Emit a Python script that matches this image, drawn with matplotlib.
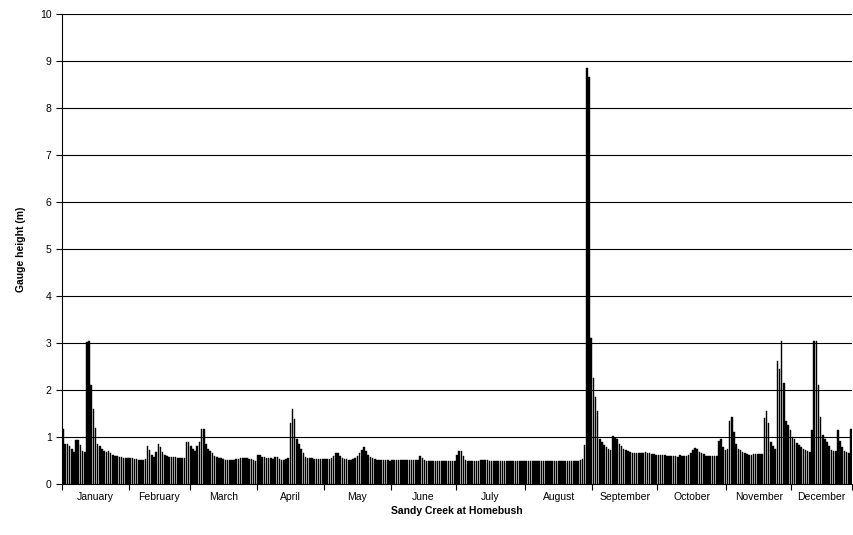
import numpy as np
import matplotlib
matplotlib.use('Agg')
import matplotlib.pyplot as plt

plt.rcParams['font.family'] = ['Liberation Sans', 'DejaVu Sans']

months = ['January', 'February', 'March', 'April', 'May', 'June', 'July',
          'August', 'September', 'October', 'November', 'December']

# daily gauge height (m); one list per labelled month block
jan = [1.18, 0.85, 0.85, 0.8, 0.75, 0.68, 0.93, 0.93, 0.82, 0.7, 0.68, 3.03, 3.05, 2.1, 1.6,
       1.2, 0.85, 0.8, 0.75, 0.7, 0.68, 0.7, 0.65, 0.62, 0.6, 0.6, 0.58, 0.57, 0.56, 0.55, 0.55]
feb = [0.55, 0.55, 0.54, 0.53, 0.52, 0.52, 0.52, 0.53, 0.8, 0.72, 0.62, 0.58, 0.68, 0.85,
       0.78, 0.68, 0.62, 0.6, 0.58, 0.57, 0.57, 0.57, 0.56, 0.56, 0.55, 0.55, 0.9, 0.9]
mar = [0.8, 0.75, 0.7, 0.8, 0.9, 1.17, 1.17, 0.85, 0.75, 0.7, 0.65, 0.6, 0.58, 0.56, 0.55,
       0.53, 0.52, 0.52, 0.52, 0.52, 0.52, 0.53, 0.54, 0.55, 0.55, 0.55, 0.55, 0.54, 0.53, 0.52, 0.5]
apr = [0.62, 0.62, 0.58, 0.57, 0.56, 0.56, 0.55, 0.54, 0.58, 0.57, 0.53, 0.52, 0.52, 0.53, 0.55,
       1.3, 1.6, 1.38, 0.95, 0.85, 0.75, 0.65, 0.57, 0.56, 0.55, 0.55, 0.54, 0.54, 0.53, 0.53, 0.53]
may = [0.53, 0.53, 0.54, 0.55, 0.6, 0.67, 0.65, 0.6, 0.56, 0.54, 0.53, 0.52, 0.52, 0.53, 0.56,
       0.6, 0.65, 0.72, 0.78, 0.7, 0.62, 0.57, 0.55, 0.53, 0.52, 0.52, 0.52, 0.51, 0.51, 0.51, 0.5]
jun = [0.52, 0.52, 0.52, 0.52, 0.51, 0.51, 0.51, 0.51, 0.52, 0.52, 0.52, 0.52, 0.52, 0.6, 0.55,
       0.51, 0.5, 0.5, 0.5, 0.5, 0.5, 0.5, 0.5, 0.5, 0.5, 0.5, 0.5, 0.5, 0.5, 0.5]
jul = [0.62, 0.71, 0.7, 0.6, 0.52, 0.5, 0.5, 0.5, 0.5, 0.5, 0.5, 0.51, 0.52, 0.52, 0.51, 0.5,
       0.5, 0.5, 0.5, 0.5, 0.5, 0.5, 0.5, 0.5, 0.49, 0.49, 0.49, 0.49, 0.49, 0.49, 0.49, 0.49]
aug = [0.49, 0.49, 0.49, 0.49, 0.49, 0.49, 0.49, 0.49, 0.49, 0.48, 0.48, 0.48, 0.48, 0.48, 0.49,
       0.49, 0.49, 0.48, 0.48, 0.48, 0.48, 0.48, 0.48, 0.5, 0.5, 0.52, 0.53, 0.82, 8.85, 8.65, 3.1]
sep = [2.25, 1.85, 1.55, 0.95, 0.9, 0.82, 0.78, 0.75, 0.72, 1.02, 0.98, 0.95, 0.85, 0.8, 0.75,
       0.72, 0.7, 0.68, 0.67, 0.66, 0.66, 0.66, 0.67, 0.67, 0.68, 0.66, 0.65, 0.64, 0.63, 0.62]
oct_ = [0.62, 0.62, 0.61, 0.61, 0.6, 0.6, 0.6, 0.6, 0.6, 0.58, 0.62, 0.6, 0.6, 0.6, 0.62, 0.66,
        0.72, 0.76, 0.74, 0.68, 0.66, 0.63, 0.6, 0.59, 0.59, 0.6, 0.6, 0.6, 0.92, 0.96, 0.78, 0.72]
nov = [0.75, 1.35, 1.42, 1.1, 0.85, 0.75, 0.72, 0.68, 0.66, 0.64, 0.62, 0.62, 0.64, 0.64, 0.64,
       0.64, 0.64, 1.4, 1.55, 1.3, 0.9, 0.8, 0.75, 2.62, 2.45, 3.05, 2.15, 1.35, 1.25, 1.15]
dec = [1.0, 0.95, 0.88, 0.82, 0.78, 0.75, 0.72, 0.7, 0.68, 1.15, 3.05, 3.05, 2.1, 1.42, 1.05,
       0.95, 0.9, 0.8, 0.72, 0.7, 0.7, 1.15, 0.92, 0.78, 0.7, 0.68, 0.65, 1.18]

data = [jan, feb, mar, apr, may, jun, jul, aug, sep, oct_, nov, dec]
block_len = [len(d) for d in data]
heights = np.concatenate(data)
days = np.arange(len(heights))

fig = plt.figure(figsize=(8.54, 5.35), dpi=100)
ax = fig.add_axes([62/854, 51/535, 790/854, 470/535])

ax.bar(days + 0.5, heights, width=0.72, color='black', edgecolor='black', linewidth=0.3, zorder=3)

ax.set_xlim(0, len(heights))
ax.set_ylim(0, 10)
ax.set_yticks(range(0, 11))
ax.yaxis.grid(True, color='black', linewidth=0.8, zorder=0)
ax.tick_params(axis='y', labelsize=7.5, length=4, width=0.8)

bounds = np.concatenate([[0], np.cumsum(block_len)])
ax.set_xticks(bounds)
ax.set_xticklabels([])
ax.set_xticks((bounds[:-1] + bounds[1:]) / 2, minor=True)
ax.set_xticklabels(months, minor=True, fontsize=7.5)
ax.tick_params(axis='x', which='major', length=4, width=0.8)
ax.tick_params(axis='x', which='minor', length=0, pad=6)

for s in ['top', 'right']:
    ax.spines[s].set_visible(False)

ax.set_ylabel('Gauge height (m)', fontsize=7.5, fontweight='bold', labelpad=10)
ax.set_xlabel('Sandy Creek at Homebush', fontsize=7.5, fontweight='bold', labelpad=3)

fig.savefig('out.png', dpi=100)
